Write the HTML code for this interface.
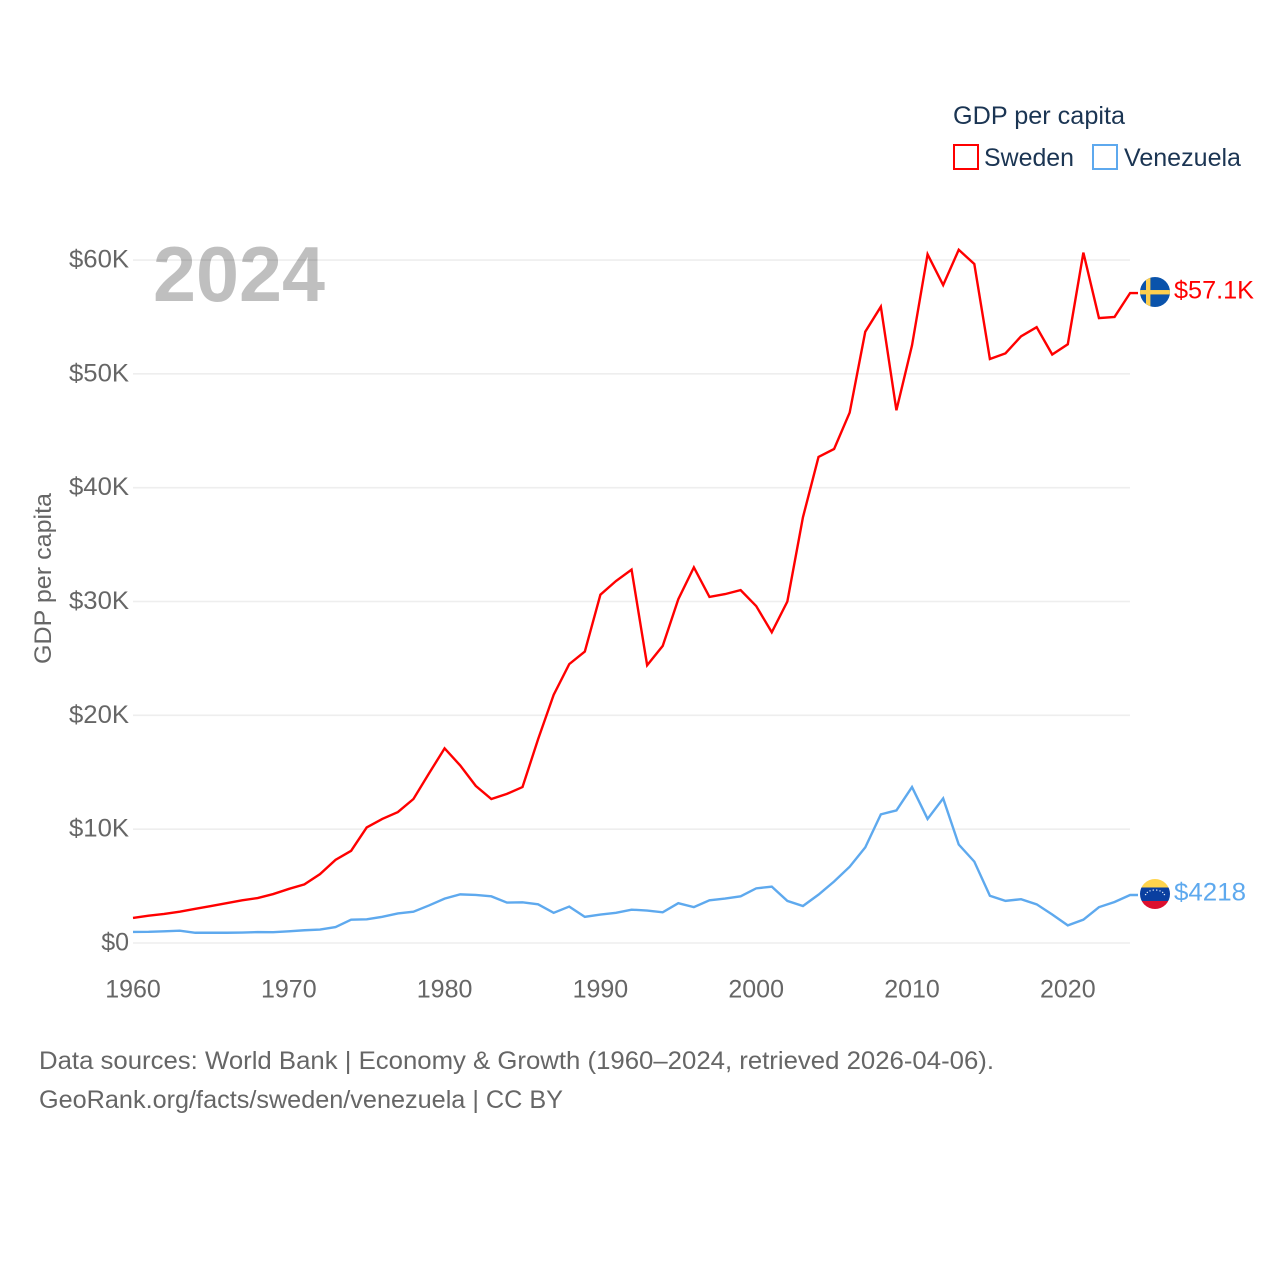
<!DOCTYPE html>
<html>
<head>
<meta charset="utf-8">
<title>GDP per capita: Sweden and Venezuela</title>
<style>
html,body{margin:0;padding:0;background:#fff;width:1280px;height:1280px;overflow:hidden}
svg{display:block}
text{font-family:"Liberation Sans",sans-serif}
</style>
</head>
<body>
<svg id="chart" width="1280" height="1280" viewBox="0 0 1280 1280" xmlns="http://www.w3.org/2000/svg">
  <defs>
    <clipPath id="sweden-clip"><circle id="sweden-clip-circle" r="15"></circle></clipPath>
    <clipPath id="venezuela-clip"><circle id="venezuela-clip-circle" r="15"></circle></clipPath>
  </defs>
  <rect width="1280" height="1280" fill="#fff"></rect>
  <g id="grid"></g>
  <g id="y-ticks"></g>
  <g id="x-ticks"></g>
  <text x="51" y="578.5" transform="rotate(-90 51 578.5)" text-anchor="middle" font-size="24" fill="#666" textLength="171" lengthAdjust="spacingAndGlyphs">GDP per capita</text>
  <text x="153" y="301" font-size="78" font-weight="700" fill="#000" fill-opacity="0.25" textLength="172" lengthAdjust="spacingAndGlyphs">2024</text>
  <g id="series"></g>
  <g id="sweden-flag"></g>
  <g id="venezuela-flag"></g>
  <text id="sweden-value" x="1174" font-size="25" fill="#ff0000" textLength="80" lengthAdjust="spacingAndGlyphs"></text>
  <text id="venezuela-value" x="1174" font-size="25" fill="#5ea9ee" textLength="72" lengthAdjust="spacingAndGlyphs"></text>

  <g>
    <text x="953" y="124" font-size="25" fill="#1b3553" textLength="172" lengthAdjust="spacingAndGlyphs">GDP per capita</text>
    <g>
      <rect x="954" y="145" width="24" height="24" fill="none" stroke="#ff0000" stroke-width="2"></rect>
      <text x="984" y="166" font-size="25" fill="#1b3553" textLength="90" lengthAdjust="spacingAndGlyphs">Sweden</text>
    </g>
    <g>
      <rect x="1093" y="145" width="24" height="24" fill="none" stroke="#5ea9ee" stroke-width="2"></rect>
      <text x="1124" y="166" font-size="25" fill="#1b3553" textLength="117" lengthAdjust="spacingAndGlyphs">Venezuela</text>
    </g>
  </g>

  <text x="39" y="1069" font-size="25" fill="#666" textLength="955" lengthAdjust="spacingAndGlyphs">Data sources: World Bank | Economy &amp; Growth (1960–2024, retrieved 2026-04-06).</text>
  <text x="39" y="1108" font-size="25" fill="#666" textLength="524" lengthAdjust="spacingAndGlyphs">GeoRank.org/facts/sweden/venezuela | CC BY</text>
</svg>
<script>
const startYear = 1960;
const yTickValues = [0, 10, 20, 30, 40, 50, 60];
const yTickLabels = ["$0", "$10K", "$20K", "$30K", "$40K", "$50K", "$60K"];
const xTickYears = [1960, 1970, 1980, 1990, 2000, 2010, 2020];
const swedenValues = [2.2,2.4,2.55,2.75,3.0,3.25,3.5,3.75,3.95,4.3,4.75,5.15,6.05,7.3,8.1,10.15,10.9,11.5,12.65,14.9,17.1,15.6,13.8,12.65,13.1,13.7,17.9,21.8,24.5,25.6,30.6,31.8,32.8,24.4,26.1,30.2,33.0,30.4,30.65,31.0,29.6,27.3,30.0,37.4,42.7,43.4,46.6,53.7,55.9,46.8,52.5,60.5,57.8,60.9,59.65,51.3,51.8,53.3,54.1,51.7,52.6,60.65,54.9,55.0,57.1];
const venezuelaValues = [0.97,0.98,1.03,1.08,0.9,0.9,0.9,0.92,0.96,0.95,1.03,1.12,1.18,1.4,2.05,2.08,2.3,2.6,2.75,3.3,3.9,4.27,4.22,4.1,3.55,3.57,3.4,2.65,3.2,2.3,2.5,2.65,2.93,2.85,2.7,3.5,3.15,3.75,3.9,4.1,4.8,4.95,3.7,3.25,4.25,5.4,6.7,8.4,11.3,11.65,13.7,10.9,12.7,8.65,7.15,4.15,3.7,3.85,3.4,2.5,1.55,2.05,3.15,3.6,4.218];
const swedenEndLabel = "$57.1K";
const venezuelaEndLabel = "$4218";

const SVG_NS = "http://www.w3.org/2000/svg";
const xScale = year => 133 + (year - 1960) * 15.58;
const yScale = value => 943 - value * 11.383;

function make(tag, attrs, parent) {
  const el = document.createElementNS(SVG_NS, tag);
  for (const k in attrs) el.setAttribute(k, attrs[k]);
  parent.appendChild(el);
  return el;
}

const grid = document.getElementById("grid");
const yTicks = document.getElementById("y-ticks");
const xTicks = document.getElementById("x-ticks");
const seriesGroup = document.getElementById("series");

yTickValues.forEach((v, i) => {
  const line = make("line", {x1: 133, x2: 1130, y1: yScale(v), y2: yScale(v), stroke: "#eeeeee", "stroke-width": 1.6}, grid);
  
  
  const label = make("text", {x: 129, y: yScale(v) + 7.5, "text-anchor": "end", "font-size": 25, fill: "#666"}, yTicks);
  if (yTickLabels[i].length > 2) {
    label.setAttribute("textLength", 60);
    label.setAttribute("lengthAdjust", "spacingAndGlyphs");
  }
  
  
  label.textContent = yTickLabels[i];
});

xTickYears.forEach(year => {
  const label = make("text", {x: xScale(year), y: 997.5, "text-anchor": "middle", "font-size": 25, fill: "#666"}, xTicks);
  
  
  label.textContent = year;
});

function drawSeries(values, color) {
  const pts = values.map((v, i) => xScale(startYear + i).toFixed(2) + "," + yScale(v).toFixed(2));
  const lastY = yScale(values[values.length - 1]).toFixed(2);
  pts.push("1138," + lastY);
  return make("polyline", {points: pts.join(" "), fill: "none", stroke: color, "stroke-width": 2.4, "stroke-linejoin": "miter"}, seriesGroup);
}

const venezuelaLine = drawSeries(venezuelaValues, "#5ea9ee");


const swedenLine = drawSeries(swedenValues, "#ff0000");



const flagX = 1155;
const swedenY = yScale(swedenValues[swedenValues.length - 1]);
const venezuelaY = yScale(venezuelaValues[venezuelaValues.length - 1]);

document.getElementById("sweden-clip-circle").setAttribute("cx", flagX);
document.getElementById("sweden-clip-circle").setAttribute("cy", swedenY - 1);
document.getElementById("venezuela-clip-circle").setAttribute("cx", flagX);
document.getElementById("venezuela-clip-circle").setAttribute("cy", venezuelaY - 1);

const sFlag = document.getElementById("sweden-flag");
sFlag.setAttribute("clip-path", "url(#sweden-clip)");
const sy = swedenY - 1;
make("rect", {x: flagX - 15, y: sy - 15, width: 30, height: 30, fill: "#0a53ab"}, sFlag);
make("rect", {x: flagX - 15, y: sy - 2, width: 30, height: 4.4, fill: "#fdcf4f"}, sFlag);
make("rect", {x: flagX - 9, y: sy - 15, width: 4.4, height: 30, fill: "#fdcf4f"}, sFlag);

const vFlag = document.getElementById("venezuela-flag");
vFlag.setAttribute("clip-path", "url(#venezuela-clip)");
const vy = venezuelaY - 1;
make("rect", {x: flagX - 15, y: vy - 15, width: 30, height: 8.5, fill: "#ffd44d"}, vFlag);
make("rect", {x: flagX - 15, y: vy - 6.5, width: 30, height: 13.5, fill: "#0a3fa0"}, vFlag);
make("rect", {x: flagX - 15, y: vy + 7, width: 30, height: 8, fill: "#dc0f2e"}, vFlag);
for (let a = 20; a <= 160; a += 20) {
  const r = a * Math.PI / 180;
  make("circle", {cx: flagX + 10 * Math.cos(r), cy: vy + 3 - 7 * Math.sin(r), r: 0.7, fill: "#dfe8f5"}, vFlag);
}

const sLabel = document.getElementById("sweden-value");
sLabel.setAttribute("y", swedenY + 5.5);
sLabel.textContent = swedenEndLabel;
const vLabel = document.getElementById("venezuela-value");
vLabel.setAttribute("y", venezuelaY + 5.5);
vLabel.textContent = venezuelaEndLabel;
</script>
</body>
</html>
